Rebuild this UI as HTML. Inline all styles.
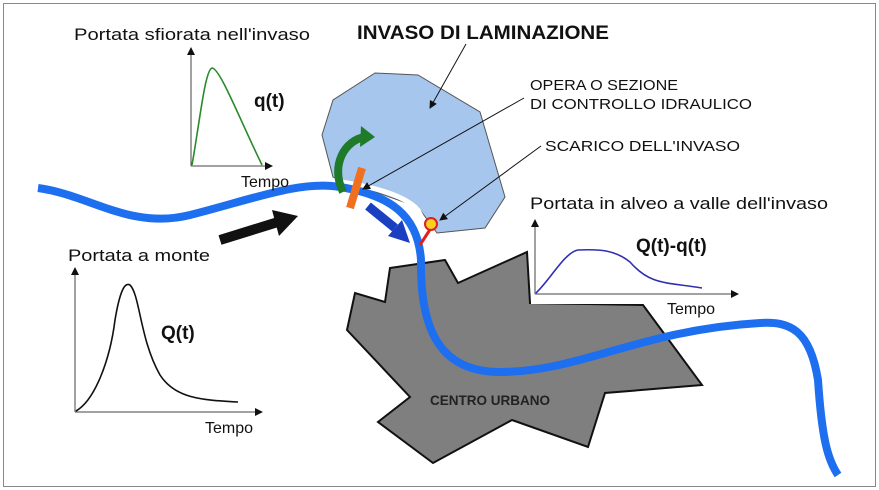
<!DOCTYPE html><html><head><style>body{margin:0;background:#fff}svg{display:block}text{font-family:"Liberation Sans",Arial,sans-serif}</style></head><body>
<svg width="879" height="490" viewBox="0 0 879 490">
<defs><marker id="ah" markerWidth="8" markerHeight="8" refX="7" refY="4" orient="auto" markerUnits="userSpaceOnUse"><path d="M0,0 L8,4 L0,8z" fill="#111"/></marker></defs>
<rect x="3.5" y="3.5" width="872" height="483" fill="#fff" stroke="#888" stroke-width="1"/>
<polygon points="390,268 445,260 458,283 527,252 530,303 643,305 702,385 605,393 588,447 512,420 433,463 378,422 410,397 347,330 355,293 385,302" fill="#7f7f7f" stroke="#111" stroke-width="2"/>
<text x="430" y="405" font-size="14" font-weight="bold" fill="#222" textLength="120" lengthAdjust="spacingAndGlyphs">CENTRO URBANO</text>
<polygon points="375,73 418,75 480,112 505,197 485,228 437,233 418,207 333,177 322,135 333,100" fill="#a7c6ee" stroke="#555" stroke-width="1"/>
<path d="M334,181 Q400,190 418,210 L428,230" fill="none" stroke="#fff" stroke-width="5"/>
<rect x="531" y="214" width="215" height="90" fill="#fff"/>
<path d="M38,188 C90,195 130,230 190,215 C250,200 300,180 340,187 C390,195 418,215 421,260 C420,330 440,372 500,372 C580,372 640,330 760,323 C790,321 810,330 818,380 C822,440 828,460 838,475" fill="none" stroke="#1e6ff0" stroke-width="8"/>
<path d="M431,228 L420,245" stroke="#e02020" stroke-width="3"/>
<circle cx="431" cy="224" r="6" fill="#f5d020" stroke="#e02020" stroke-width="2"/>
<line x1="362" y1="168" x2="350" y2="208" stroke="#f07020" stroke-width="8"/>
<path d="M343,192 C330,165 345,140 365,137" fill="none" stroke="#1f7a2a" stroke-width="8"/>
<polygon points="361,126 375,137 360,147" fill="#1f7a2a"/>
<line x1="368" y1="206" x2="395" y2="228" stroke="#1a3fc0" stroke-width="9"/>
<polygon points="388,236 410,243 402,220" fill="#1a3fc0"/>
<line x1="220" y1="240" x2="278" y2="222" stroke="#111" stroke-width="10"/>
<polygon points="272,210 298,216 279,236" fill="#111"/>
<text x="357" y="39" font-size="19" font-weight="bold" fill="#111" textLength="252" lengthAdjust="spacingAndGlyphs">INVASO DI LAMINAZIONE</text>
<line x1="466" y1="44" x2="430" y2="108" stroke="#111" marker-end="url(#ah)"/>
<text x="530" y="90" font-size="15" fill="#111" textLength="148" lengthAdjust="spacingAndGlyphs">OPERA O SEZIONE</text>
<text x="530" y="109" font-size="15" fill="#111" textLength="222" lengthAdjust="spacingAndGlyphs">DI CONTROLLO IDRAULICO</text>
<line x1="524" y1="98" x2="363" y2="189" stroke="#111" marker-end="url(#ah)"/>
<text x="545" y="151" font-size="15" fill="#111" textLength="195" lengthAdjust="spacingAndGlyphs">SCARICO DELL'INVASO</text>
<line x1="541" y1="146" x2="440" y2="220" stroke="#111" marker-end="url(#ah)"/>
<text x="74" y="40" font-size="17" fill="#111" textLength="236" lengthAdjust="spacingAndGlyphs">Portata sfiorata nell'invaso</text>
<line x1="191" y1="166" x2="191" y2="48" stroke="#444" marker-end="url(#ah)"/>
<line x1="191" y1="166" x2="272" y2="166" stroke="#444" marker-end="url(#ah)"/>
<path d="M192,165 C200,120 205,70 212,68 C220,68 240,120 262,165" fill="none" stroke="#2a8a2a" stroke-width="1.6"/>
<text x="254" y="107" font-size="19" font-weight="bold" fill="#111">q(t)</text>
<text x="241" y="187" font-size="16" fill="#111">Tempo</text>
<text x="68" y="261" font-size="17" fill="#111" textLength="142" lengthAdjust="spacingAndGlyphs">Portata a monte</text>
<line x1="75" y1="412" x2="75" y2="268" stroke="#444" marker-end="url(#ah)"/>
<line x1="75" y1="412" x2="262" y2="412" stroke="#444" marker-end="url(#ah)"/>
<path d="M76,411 C95,400 110,360 115,320 C120,290 125,282 130,285 C140,295 140,340 160,375 C175,398 200,400 238,402" fill="none" stroke="#111" stroke-width="1.6"/>
<text x="161" y="339" font-size="19" font-weight="bold" fill="#111">Q(t)</text>
<text x="205" y="433" font-size="16" fill="#111">Tempo</text>
<text x="530" y="209" font-size="17" fill="#111" textLength="298" lengthAdjust="spacingAndGlyphs">Portata in alveo a valle dell'invaso</text>
<line x1="535" y1="294" x2="535" y2="220" stroke="#444" marker-end="url(#ah)"/>
<line x1="535" y1="294" x2="738" y2="294" stroke="#444" marker-end="url(#ah)"/>
<path d="M536,293 C550,280 565,252 578,250 C600,249 615,250 630,262 C650,285 665,282 702,288" fill="none" stroke="#3030b0" stroke-width="1.6"/>
<text x="636" y="252" font-size="19" font-weight="bold" fill="#111">Q(t)-q(t)</text>
<text x="667" y="314" font-size="16" fill="#111">Tempo</text>
</svg></body></html>
